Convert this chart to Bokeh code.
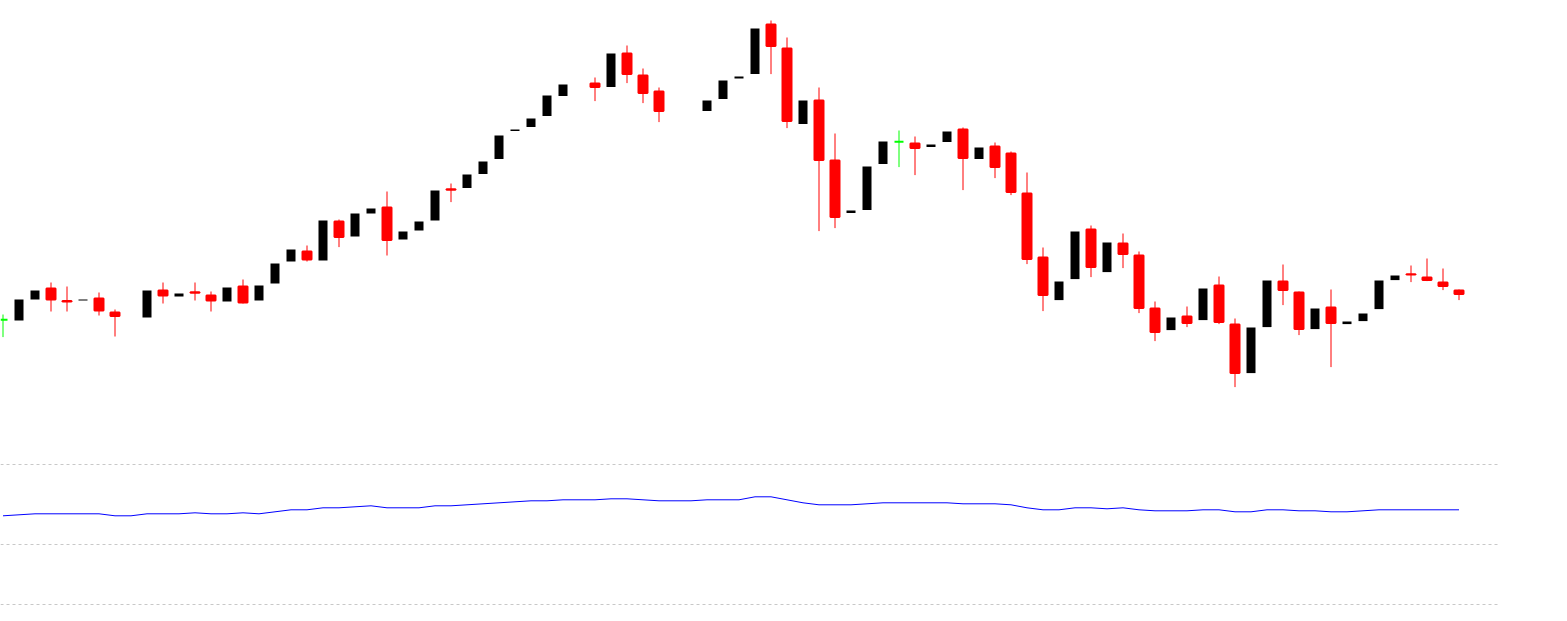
import numpy as np
from bokeh.plotting import figure
from bokeh.layouts import column
from bokeh.models import ColumnDataSource, Range1d, FixedTicker
from bokeh.embed import file_html
from bokeh.resources import INLINE

# ---- data ----
opens = [24.04, 24.00, 25.05, 25.60, 24.97, 25.00, 25.10, 24.40, None, 24.15,
         25.50, 25.20, 25.41, 25.25, 24.95, 25.70, 25.00, 25.85, 26.95, 27.45,
         27.00, 28.95, 28.20, 29.35, 29.65, 28.05, 28.50, 29.00, 30.56, 30.62,
         31.32, 32.07, 33.47, 33.67, 34.22, 35.22, None, 35.85, 35.67, 37.35,
         36.25, 35.45, None, None, 34.47, 35.07, 36.10, 36.32, 38.80, 37.60,
         33.82, 35.00, 32.00, 29.37, 29.52, 31.82, 32.94, 32.85, 32.67, 32.92,
         33.55, 32.07, 32.70, 32.35, 30.35, 27.15, 25.02, 26.07, 28.55, 26.42,
         27.85, 27.25, 24.60, 23.52, 24.20, 24.02, 25.75, 23.80, 21.37, 23.67,
         25.95, 25.40, 23.57, 24.65, 23.82, 23.97, 24.57, 26.02, 26.31, 26.15,
         25.90, 25.50]
highs = [24.30, 25.05, 25.50, 25.90, 25.70, 25.05, 25.40, 24.55, None, 25.50,
         25.90, 25.35, 25.90, 25.45, 25.65, 26.05, 25.75, 26.85, 27.55, 27.75,
         29.00, 29.05, 29.35, 29.60, 30.45, 28.45, 28.95, 30.50, 30.85, 31.30,
         31.95, 33.25, 33.55, 34.10, 35.25, 35.80, None, 36.15, 37.35, 37.75,
         36.60, 35.65, None, None, 35.00, 36.00, 36.20, 38.60, 39.00, 38.15,
         35.00, 35.65, 33.35, 29.50, 31.70, 32.95, 33.50, 33.20, 32.80, 33.45,
         33.65, 32.65, 32.90, 32.45, 31.40, 27.65, 25.95, 28.45, 28.75, 27.90,
         28.35, 27.45, 24.95, 24.15, 24.70, 25.60, 26.20, 24.10, 23.65, 26.00,
         26.80, 25.45, 24.60, 25.55, 23.95, 24.35, 26.00, 26.25, 26.75, 27.10,
         26.60, 25.55]
lows = [23.17, 24.00, 25.05, 24.45, 24.45, 25.00, 24.25, 23.20, None, 24.15,
        24.85, 25.20, 25.00, 24.45, 24.95, 24.85, 25.00, 25.85, 26.95, 26.95,
        27.00, 27.67, 28.20, 29.35, 27.25, 28.05, 28.50, 29.00, 29.92, 30.62,
        31.32, 32.07, 33.47, 33.67, 34.22, 35.22, None, 34.97, 35.67, 35.87,
        34.87, 33.92, None, None, 34.47, 35.07, 36.10, 36.32, 36.32, 33.62,
        33.82, 28.47, 28.62, 29.37, 29.52, 31.82, 31.67, 31.27, 32.67, 32.92,
        30.52, 32.07, 31.12, 30.27, 26.82, 24.47, 25.02, 26.07, 26.17, 26.42,
        26.62, 24.37, 22.97, 23.52, 23.67, 24.02, 23.82, 20.67, 21.37, 23.67,
        24.77, 23.27, 23.57, 21.67, 23.82, 23.97, 24.57, 26.02, 25.92, 25.97,
        25.52, 25.02]
closes = [24.04, 25.05, 25.50, 25.05, 24.95, 25.05, 24.50, 24.22, None, 25.50,
          25.25, 25.35, 25.39, 25.00, 25.65, 24.90, 25.75, 26.85, 27.55, 27.05,
          29.00, 28.17, 29.35, 29.60, 28.02, 28.45, 28.95, 30.50, 30.54, 31.30,
          31.95, 33.25, 33.55, 34.10, 35.25, 35.80, None, 35.67, 37.35, 36.32,
          35.37, 34.47, None, None, 35.00, 36.00, 36.20, 38.60, 37.72, 33.97,
          35.00, 32.02, 29.17, 29.50, 31.70, 32.95, 32.94, 32.62, 32.80, 33.45,
          32.12, 32.65, 31.67, 30.42, 27.07, 25.27, 25.95, 28.45, 26.67, 27.90,
          27.32, 24.62, 23.42, 24.15, 23.87, 25.60, 23.92, 21.37, 23.65, 26.00,
          25.52, 23.57, 24.60, 23.87, 23.95, 24.35, 26.00, 26.25, 26.30, 26.02,
          25.72, 25.32]
indicator = [44.5, 45.0, 45.5, 45.5, 45.5, 45.5, 45.5, 44.5, 44.5, 45.5,
             45.5, 45.5, 46.0, 45.5, 45.5, 46.0, 45.5, 46.5, 47.5, 47.5,
             48.5, 48.5, 49.0, 49.5, 48.5, 48.5, 48.5, 49.5, 49.5, 50.0,
             50.5, 51.0, 51.5, 52.0, 52.0, 52.5, 52.5, 52.5, 53.0, 53.0,
             52.5, 52.0, 52.0, 52.0, 52.5, 52.5, 52.5, 54.0, 54.0, 52.5,
             51.0, 50.0, 50.0, 50.0, 50.5, 51.0, 51.0, 51.0, 51.0, 51.0,
             50.5, 50.5, 50.5, 50.0, 48.5, 47.5, 47.5, 48.5, 48.5, 48.0,
             48.5, 47.5, 47.0, 47.0, 47.0, 47.5, 47.5, 46.5, 46.5, 47.5,
             47.5, 47.0, 47.0, 46.5, 46.5, 47.0, 47.5, 47.5, 47.5, 47.5,
             47.5, 47.5]
indicator_grid = [0, 30, 70]

# ---- build ----
n = len(opens)
idx = np.arange(n)
o = np.array([np.nan if v is None else v for v in opens], dtype=float)
h = np.array([np.nan if v is None else v for v in highs], dtype=float)
l = np.array([np.nan if v is None else v for v in lows], dtype=float)
c = np.array([np.nan if v is None else v for v in closes], dtype=float)
valid = ~np.isnan(o)

up = valid & (c > o)
down = valid & (c < o)
flat = valid & (c == o)

BODY_W = 9 / 16
PX = 16.0          # pixels per bar slot
X0 = -2.5 / PX     # first slot centred 2.5 px from the left edge

W1, H1 = 1559, 430
W2, H2 = 1500, 183

def base_fig(w, h, xr, yr):
    f = figure(width=w, height=h, x_range=xr, y_range=yr,
               output_backend="svg", toolbar_location=None,
               min_border=0, min_border_left=0, min_border_right=0,
               min_border_top=0, min_border_bottom=0)
    f.axis.visible = False
    f.xgrid.visible = False
    f.ygrid.visible = False
    f.outline_line_color = None
    f.background_fill_color = "white"
    f.border_fill_color = "white"
    return f

PPU = 20.0  # price panel pixels per unit
p1 = base_fig(W1, H1, Range1d(X0, X0 + W1 / PX), Range1d(40 - H1 / PPU, 40))

def src(mask):
    return ColumnDataSource(dict(x=idx[mask], o=o[mask], h=h[mask], l=l[mask], c=c[mask]))

s_up, s_down, s_flat = src(up), src(down), src(flat)

p1.segment(x0="x", y0="h", x1="x", y1="l", source=s_down, line_color="#FF0000", line_width=1)
p1.segment(x0="x", y0="h", x1="x", y1="l", source=s_flat, line_color="#00FF00", line_width=1)
p1.vbar(x="x", width=BODY_W, top="o", bottom="c", source=s_down,
        fill_color="#FF0000", line_color="#FF0000", line_width=2)
p1.vbar(x="x", width=BODY_W, top="o", bottom="c", source=s_flat,
        fill_color="#00FF00", line_color="#00FF00", line_width=2)
p1.vbar(x="x", width=BODY_W, top="c", bottom="o", source=s_up,
        fill_color="#000000", line_color=None)

# lower panel
ZERO_PX = 604.3 - H1   # pixel row of value 0 inside the lower panel
SCALE = 2.0
p2 = base_fig(W2, H2, Range1d(X0, X0 + W2 / PX),
              Range1d((ZERO_PX - H2) / SCALE, ZERO_PX / SCALE))
p2.ygrid.visible = True
p2.ygrid.ticker = FixedTicker(ticks=indicator_grid)
p2.ygrid.grid_line_color = "#C8C8C8"
p2.ygrid.grid_line_dash = "3 3"
p2.ygrid.grid_line_width = 1
p2.line(idx, indicator, line_color="#0000FF", line_width=1)

layout = column(p1, p2, spacing=0)
open("out.html", "w").write(file_html(layout, INLINE))
